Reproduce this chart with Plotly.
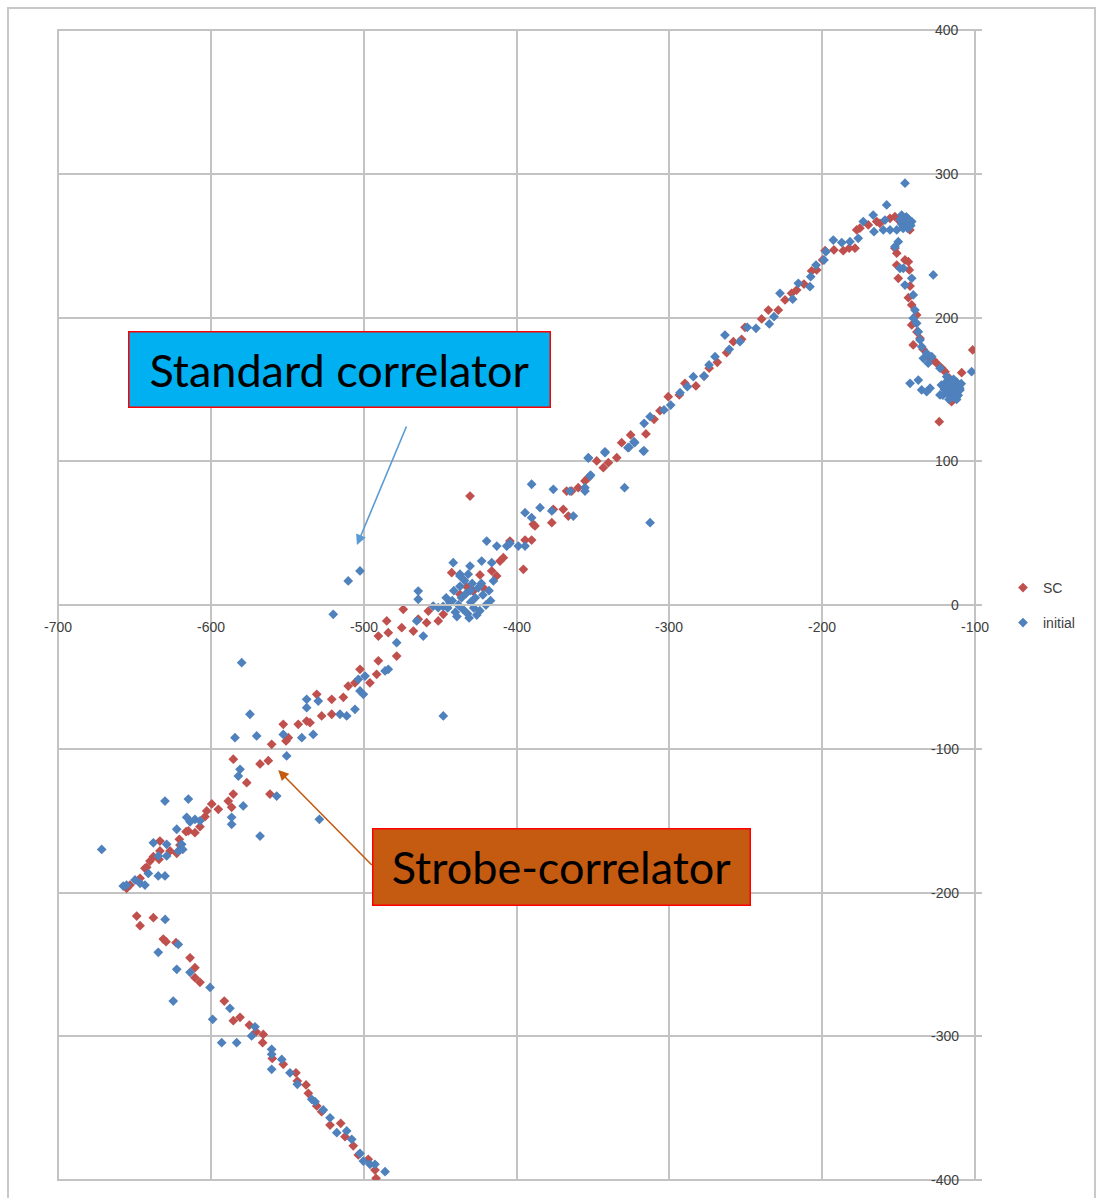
import plotly.graph_objects as go

# ---- data ----
sc_x = [-648.5,-646.3,-637.6,-631.1,-629.3,-622.8,-613.6,-610.4,-610.4,-607.1,-591.2,-585.3,-580.9,-574.8,-570.4,-566.1,-565.7,-559.8,-552.6,-544.3,-543.4,-537.7,-536.2,-530.7,-527.5,-522.0,-515.0,-512.2,-506.8,-503.5,-497.0,-492.6,-491.9,
        -655.1,-652.9,-646.3,-643.1,-642.0,-639.8,-637.6,-633.9,-633.3,-633.3,-626.7,-622.3,-620.6,-620.2,-616.2,-614.7,-610.4,-607.1,-603.8,-602.7,-599.4,-595.1,-588.6,-586.4,-585.3,-576.5,-561.3,
        -585.3,-567.8,-562.4,-560.2,-552.6,-550.8,-549.3,-542.8,-537.3,-535.1,-530.7,-527.5,-520.9,-520.9,-513.3,-510.1,-505.7,-502.4,-495.9,-491.5,-490.4,-490.4,-484.9,-483.9,-478.4,-475.1,-474.1,-467.5,-464.3,-458.8,-457.7,-451.2,-447.9,
        -442.4,-437.0,-432.6,-430.4,-428.3,-423.9,-421.7,-416.2,-413.0,-410.8,-408.6,-404.3,-395.5,-394.4,-390.1,-389.0,-387.9,-376.9,-375.9,-369.4,-366.1,-367.2,-363.9,-359.6,-355.2,-353.0,-347.5,-343.2,-339.9,-334.4,-331.2,
        -325.3,-315.3,-310.0,-306.1,-300.7,-293.5,-289.8,-282.6,-277.3,-273.9,-268.6,-262.5,-258.1,-252.7,-250.5,-239.6,-235.2,-228.7,-224.3,-220.0,-216.7,-211.9,-206.9,-203.6,-199.7,-198.1,-192.3,-186.2,-182.3,-178.5,
        -177.4,-175.3,-169.8,-164.3,-162.2,-155.6,-152.4,-149.1,-143.6,-142.6,-152.4,-151.2,-145.8,-143.6,-151.2,-143.0,-150.2,-142.5,-143.6,-141.4,-138.2,-141.4,-140.4,-136.0,-127.3,-125.1,-119.6,-108.7,-115.3,-123.4,-101.5,
        -147.0,-144.0,-138.0,-134.0,-130.0,-122.0,-117.0,-113.0]
sc_y = [-216.4,-223.1,-217.5,-232.4,-234.2,-234.9,-245.4,-252.3,-259.3,-262.5,-275.5,-289.2,-286.8,-292.2,-296.9,-304.5,-298.7,-315.4,-319.5,-325.4,-331.2,-333.9,-339.7,-348.5,-352.5,-361.8,-360.6,-369.9,-376.2,-382.6,-385.6,-393.1,-398.8,
        -197.1,-194.8,-190.1,-183.2,-182.5,-178.1,-175.1,-176.9,-164.2,-171.1,-171.1,-172.7,-163.0,-167.0,-157.7,-157.2,-158.4,-154.2,-147.3,-143.3,-138.4,-142.1,-136.4,-140.7,-131.5,-123.6,-131.5,
        -107.3,-110.6,-108.3,-96.9,-83.0,-94.6,-92.3,-83.0,-80.7,-81.9,-62.1,-77.2,-65.6,-76.0,-64.2,-56.4,-54.1,-44.7,-54.1,-48.2,-38.8,-21.6,-11.1,-19.3,-35.5,-15.8,-3.0,-18.1,-9.9,-12.3,-4.2,-11.1,-6.5,
        22.5,7.4,12.7,75.8,9.7,20.9,12.0,23.7,20.2,30.6,32.9,44.5,24.8,45.2,45.2,56.1,55.0,57.3,66.6,66.6,61.9,79.3,79.3,81.6,86.3,88.6,100.2,95.5,99.0,102.5,112.9,
        118.3,119.0,129.2,135.2,144.9,146.1,154.2,152.4,159.3,164.7,168.8,175.5,183.2,184.8,193.2,199.0,205.2,205.2,212.2,216.8,219.1,223.3,232.4,233.1,240.0,246.5,247.0,246.5,248.2,248.2,
        260.9,262.1,264.4,266.7,265.5,269.0,270.1,266.7,264.4,260.9,248.2,244.7,240.0,238.8,236.5,233.1,227.3,221.9,213.8,208.7,201.8,194.8,180.9,185.5,170.4,168.2,162.3,161.6,141.4,127.5,177.4,
        268.0,267.0,190.0,178.0,172.0,165.0,158.0,155.0]

init_x = [-629.9,-634.4,-624.6,-622.3,-621.3,-613.6,-600.5,-598.8,-592.9,-587.5,-583.1,-573.3,-571.1,-560.2,-560.2,-560.2,-553.6,-548.2,-543.4,-534.0,-531.8,-526.4,-522.0,-517.6,-511.1,-507.8,-502.4,-500.2,-495.9,-492.6,-486.0,
          -671.4,-657.3,-655.1,-649.6,-646.3,-643.1,-640.9,-634.4,-630.0,-637.6,-634.4,-628.9,-628.9,-622.3,-621.3,-619.1,-618.4,-630.0,-614.7,-615.8,-613.6,-610.4,-607.1,-586.4,-586.4,-578.8,-567.8,-556.9,-529.0,
          -584.2,-582.0,-580.9,-579.8,-574.4,-570.0,-552.6,-550.4,-540.5,-537.3,-537.3,-533.0,-529.7,-519.9,-515.5,-511.1,-510.1,-505.7,-502.4,-503.5,-502.4,-500.2,-499.1,-486.0,-483.9,-478.4,-465.3,-464.3,-464.3,-461.0,-454.5,-451.2,-447.9,-443.5,
          -441.4,-437.0,-430.4,-437.0,-431.6,-422.8,-419.5,-416.2,-415.1,-412.9,-406.4,-404.3,-398.8,-394.4,-394.4,-390.1,-390.1,-384.6,-376.9,-375.9,-365.0,-362.8,-355.2,-355.2,-353.0,-351.9,-342.1,-329.3,-327.1,-322.7,-317.0,-312.6,
          -445,-442,-440,-438,-436,-435,-433,-432,-430,-430,-428,-427,-425,-424,-422,-420,-418,-417,-441,-437,-434,-429,-426,-439,-431,-423,-446,-448,
          -353.0,-351.5,-342.1,-326.4,-323.1,-316.5,-316.5,-312.6,-303.5,-299.1,-293.0,-288.2,-284.3,-277.3,-274.0,-270.1,-263.6,-260.8,-253.8,-249.0,-243.3,-234.6,-231.5,-227.6,-219.3,-215.6,-208.0,-207.5,-204.0,-198.8,-197.5,-192.7,-187.2,-181.8,-176.4,
          -173.1,-166.6,-166.1,-157.8,-160.0,-158.9,-155.6,-151.2,-148.0,-146.9,-144.7,-141.4,-145.8,-152.4,-150.2,-149.1,-146.9,-145.8,-141.4,-140.4,-127.3,-139.3,-140.4,-138.2,-137.1,-136.0,-134.9,-131.6,-128.3,-133.8,-130.6,-122.9,-118.5,-114.2,-109.8,-111.9,
          -142.5,-137.1,-134.9,-129.4,-131.6,-122.9,-102.2,
          -120,-118,-116,-115,-113,-112,-110,-119,-117,-114,-121,-111,-116,-113,-109,-122,-118,-115,-112,
          -148,-146,-144,-143,-145,-147,-149,-142,-144]
init_y = [-218.7,-241.6,-275.5,-253.4,-236.1,-255.5,-266.0,-288.2,-304.5,-280.6,-304.5,-299.8,-293.4,-309.1,-312.6,-323.0,-316.1,-325.4,-333.4,-343.9,-345.5,-351.3,-356.7,-367.1,-365.9,-371.7,-381.5,-386.8,-389.1,-389.1,-394.2,
          -170.0,-195.5,-194.8,-191.3,-193.6,-194.8,-186.7,-188.5,-188.5,-165.4,-174.6,-166.5,-174.6,-156.0,-171.1,-166.5,-170.0,-136.4,-135.0,-147.7,-150.8,-149.1,-150.1,-147.7,-152.6,-139.8,-160.7,-132.9,-149.1,
          -92.3,-119.0,-114.3,-40.1,-76.0,-91.1,-90.0,-105.0,-92.3,-65.6,-71.4,-90.0,-66.8,-6.5,-76.0,-77.2,16.7,-72.6,23.7,-51.7,-59.8,-62.1,-49.4,-45.9,-44.7,-26.2,-11.1,9.7,4.0,-21.6,-0.7,-1.9,-77.2,1.6,
          29.4,21.4,27.1,20.2,21.4,30.6,44.5,29.4,16.7,41.0,41.0,42.9,41.0,41.0,64.2,60.7,84.0,67.7,65.4,80.5,79.3,61.9,81.6,79.3,102.5,89.7,106.0,81.6,109.4,112.9,107.1,57.3,
          -2,3,-5,0,5,-3,8,-6,2,10,-2,5,12,-4,7,0,10,3,10,13,17,15,-7,-8,-9,15,5,-1,
          102.1,90.4,106.6,109.7,113.6,126.4,107.3,131.0,135.7,139.1,147.7,151.9,158.8,159.3,167.0,172.7,187.8,177.9,183.2,193.2,192.5,195.5,200.6,216.8,212.7,223.8,221.4,228.4,236.5,240.0,245.8,253.9,252.1,252.7,255.1,
          266.7,271.3,259.7,278.3,260.9,267.8,260.9,260.9,271.3,263.2,266.7,266.7,293.4,249.3,252.7,234.2,234.2,222.6,227.3,215.7,229.6,205.2,199.5,196.0,190.1,184.4,179.7,175.1,172.7,171.6,168.2,164.7,158.8,154.2,149.6,144.9,
          154.2,156.5,149.6,150.8,148.4,146.1,162.3,
          150,147,152,145,148,155,151,155,143,157,146,146,149,152,154,153,151,155,143,
          265,268,262,266,270,262,268,264,269]

x_ticks = [-700, -600, -500, -400, -300, -200, -100]
y_ticks = [-400, -300, -200, -100, 0, 100, 200, 300, 400]

RED = "#c0504d"
BLUE = "#4f81bd"
GRID = "#c3c3c3"
TICKFONT = dict(family="Liberation Sans, Arial", size=14, color="#404040")

fig = go.Figure()
fig.add_trace(go.Scatter(x=sc_x, y=sc_y, mode="markers", name="SC",
                         marker=dict(symbol="diamond", size=7.5, color=RED),
                         legend="legend"))
fig.add_trace(go.Scatter(x=init_x, y=init_y, mode="markers", name="initial",
                         marker=dict(symbol="diamond", size=7.5, color=BLUE),
                         legend="legend2"))

W, H = 1101, 1198
L, R, T, B = 58, 126, 30, 18
pw = W - L - R
ph = H - T - B

def px2paper(px, py):
    return (px - L) / pw, (H - B - py) / ph

fig.update_layout(
    width=W, height=H,
    margin=dict(l=L, r=R, t=T, b=B, pad=0),
    paper_bgcolor="white", plot_bgcolor="white",
    font=dict(family="Liberation Sans, Arial", size=14, color="#404040"),
    xaxis=dict(range=[-700, -100], tickvals=x_ticks, showticklabels=False,
               showgrid=True, gridcolor=GRID, gridwidth=2,
               showline=True, linecolor=GRID, linewidth=2,
               zeroline=False, anchor="free", position=0.5, side="bottom", ticks=""),
    yaxis=dict(range=[-400, 400], tickvals=y_ticks, showticklabels=False,
               showgrid=True, gridcolor=GRID, gridwidth=2,
               showline=False,
               zeroline=False, side="right",
               ticks="outside", ticklen=6, tickcolor=GRID, tickwidth=2),
    legend=dict(x=px2paper(1003, 0)[0], y=px2paper(0, 588)[1], xanchor="left", yanchor="middle",
                bgcolor="rgba(0,0,0,0)", font=dict(family="Liberation Sans, Arial", size=14, color="#404040"),
                itemwidth=30),
    legend2=dict(x=px2paper(1003, 0)[0], y=px2paper(0, 623)[1], xanchor="left", yanchor="middle",
                 bgcolor="rgba(0,0,0,0)", font=dict(family="Liberation Sans, Arial", size=14, color="#404040"),
                 itemwidth=30),
    showlegend=True,
)

# tick labels placed at the axis crossing (x axis crosses at y=0, y axis at x=-100)
for v in x_ticks:
    fig.add_annotation(x=v, y=0, xref="x", yref="y", text=str(v), showarrow=False,
                       xanchor="center", yanchor="middle", yshift=-22, font=TICKFONT)
for v in y_ticks:
    fig.add_annotation(x=-100, y=v, xref="x", yref="y", text=str(v), showarrow=False,
                       xanchor="right", yanchor="middle", xshift=-14, font=TICKFONT)

# plot-area frame and outer chart frame
x0, y0 = px2paper(8, 1230)
x1, y1 = px2paper(1095, 8)
fig.add_shape(type="rect", xref="paper", yref="paper", x0=0, y0=0, x1=1, y1=1,
              line=dict(color=GRID, width=2), layer="below")
fig.add_shape(type="rect", xref="paper", yref="paper", x0=x0, y0=y0, x1=x1, y1=y1,
              line=dict(color="#c8c8c8", width=2))

# callout boxes
bx, by = px2paper(339.5, 369.5)
fig.add_annotation(xref="paper", yref="paper", x=bx, y=by, xanchor="center", yanchor="middle",
                   text="Standard correlator",
                   showarrow=False, font=dict(family="Lato", size=45, color="black"),
                   bgcolor="#00b0f0", bordercolor="#ff0000", borderwidth=1.5,
                   width=420, height=74, borderpad=0, align="center", valign="middle")
bx2, by2 = px2paper(561.5, 867)
fig.add_annotation(xref="paper", yref="paper", x=bx2, y=by2, xanchor="center", yanchor="middle",
                   text="Strobe-correlator",
                   showarrow=False, font=dict(family="Lato", size=45, color="black"),
                   bgcolor="#c55a11", bordercolor="#ff0000", borderwidth=1.5,
                   width=376, height=75, borderpad=0, align="center", valign="middle")

# arrows
fig.add_annotation(x=-504.4, y=41.7, ax=-471.6, ay=125.2, xref="x", yref="y", axref="x", ayref="y",
                   text="", showarrow=True, arrowhead=2, arrowsize=1.3, arrowwidth=1.6,
                   arrowcolor="#5b9bd5", standoff=0)
fig.add_annotation(x=-555.9, y=-114.8, ax=-493.7, ay=-181.9, xref="x", yref="y", axref="x", ayref="y",
                   text="", showarrow=True, arrowhead=2, arrowsize=1.3, arrowwidth=1.6,
                   arrowcolor="#c55a11", standoff=0)

fig.write_html("out.html")
